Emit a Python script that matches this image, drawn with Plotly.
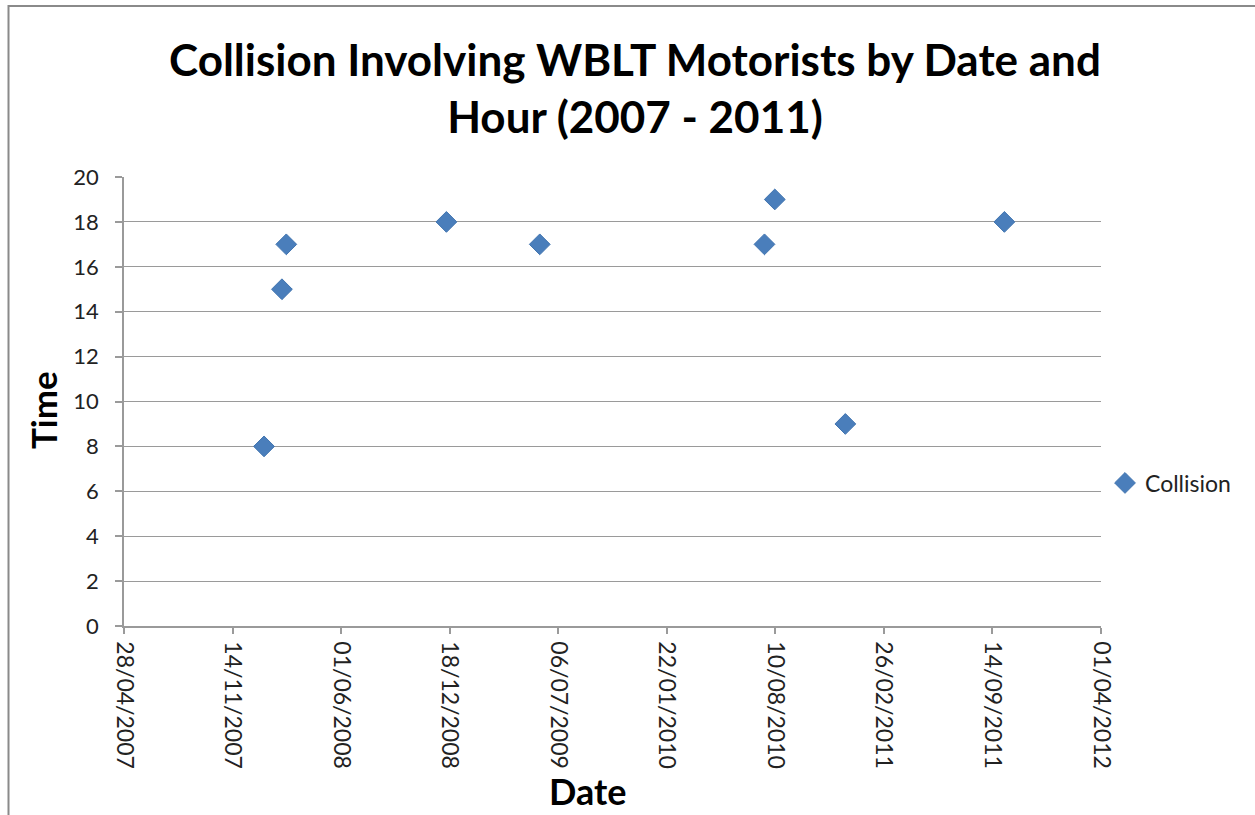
import pandas as pd
import plotly.graph_objects as go

# ---- data ----
collision_dates = ["2008-01-11", "2008-02-13", "2008-02-21", "2008-12-12", "2009-06-02",
                   "2010-07-21", "2010-08-09", "2010-12-17", "2011-10-06"]
collision_hours = [8, 15, 17, 18, 17, 17, 19, 9, 18]
x_tick_dates = ["2007-04-28", "2007-11-14", "2008-06-01", "2008-12-18", "2009-07-06",
                "2010-01-22", "2010-08-10", "2011-02-26", "2011-09-14", "2012-04-01"]
x_tick_labels = ["28/04/2007", "14/11/2007", "01/06/2008", "18/12/2008", "06/07/2009",
                 "22/01/2010", "10/08/2010", "26/02/2011", "14/09/2011", "01/04/2012"]
y_ticks = list(range(0, 21, 2))

title_text = "<b>Collision Involving WBLT Motorists by Date and<br>Hour (2007 - 2011)</b>"
FONT = "Lato"
W, H = 1255, 815
# plot area in page pixels
L, R, T, B = 124, 1101, 177, 626


def px_x(p):
    return (p - L) / (R - L)


def px_y(p):
    return (B - p) / (B - T)


fig = go.Figure()
fig.add_trace(go.Scatter(
    x=pd.to_datetime(collision_dates), y=collision_hours, mode="markers", name="Collision",
    marker=dict(symbol="diamond", size=16, color="#4A7EBB", line=dict(color="#4275B0", width=1)),
))

fig.update_layout(
    width=W, height=H,
    margin=dict(l=L, r=W - R, t=T, b=H - B, pad=0),
    paper_bgcolor="white", plot_bgcolor="white",
    font=dict(family=FONT, color="black"),
    showlegend=True,
    legend=dict(x=px_x(1105), y=px_y(483), xanchor="left", yanchor="middle",
                font=dict(family=FONT, size=23, color="#222"), bgcolor="rgba(0,0,0,0)",
                itemwidth=30),
    xaxis=dict(
        type="date", range=[pd.Timestamp(x_tick_dates[0]), pd.Timestamp(x_tick_dates[-1])],
        tickmode="array", tickvals=pd.to_datetime(x_tick_dates), ticktext=x_tick_labels,
        tickangle=90, tickfont=dict(family=FONT, size=23, color="#222"),
        ticklabelstandoff=3,
        showgrid=False, zeroline=False, showline=True, linecolor="#9a9a9a", linewidth=1.5,
        ticks="outside", ticklen=6, tickcolor="#9a9a9a", tickwidth=1.5,
    ),
    yaxis=dict(
        range=[0, 20], tickmode="array", tickvals=y_ticks,
        tickfont=dict(family=FONT, size=22, color="#222"),
        ticklabelstandoff=12,
        showgrid=True, gridcolor="#9a9a9a", gridwidth=1.2, zeroline=False,
        showline=True, linecolor="#9a9a9a", linewidth=1.5,
        ticks="outside", ticklen=7, tickcolor="#9a9a9a", tickwidth=1.5,
    ),
    annotations=[
        dict(text=title_text, x=px_x(635), y=px_y(31), xref="paper", yref="paper",
             showarrow=False, xanchor="center", yanchor="top", align="center",
             font=dict(family=FONT, size=44, color="black")),
        dict(text="<b>Date</b>", x=px_x(587), y=px_y(791), xref="paper", yref="paper",
             showarrow=False, xanchor="center", yanchor="middle",
             font=dict(family=FONT, size=36, color="black")),
        dict(text="<b>Time</b>", x=px_x(43), y=px_y(410), xref="paper", yref="paper",
             showarrow=False, xanchor="center", yanchor="middle", textangle=-90,
             font=dict(family=FONT, size=35, color="black")),
    ],
    shapes=[
        dict(type="rect", xref="paper", yref="paper",
             x0=px_x(8.5), x1=px_x(1262), y0=px_y(830), y1=px_y(6),
             line=dict(color="#8a8a8a", width=2), fillcolor="rgba(0,0,0,0)", layer="above"),
    ],
)

fig.write_html("out.html", config={"displayModeBar": False},
               post_script="document.body.style.margin='0';")
